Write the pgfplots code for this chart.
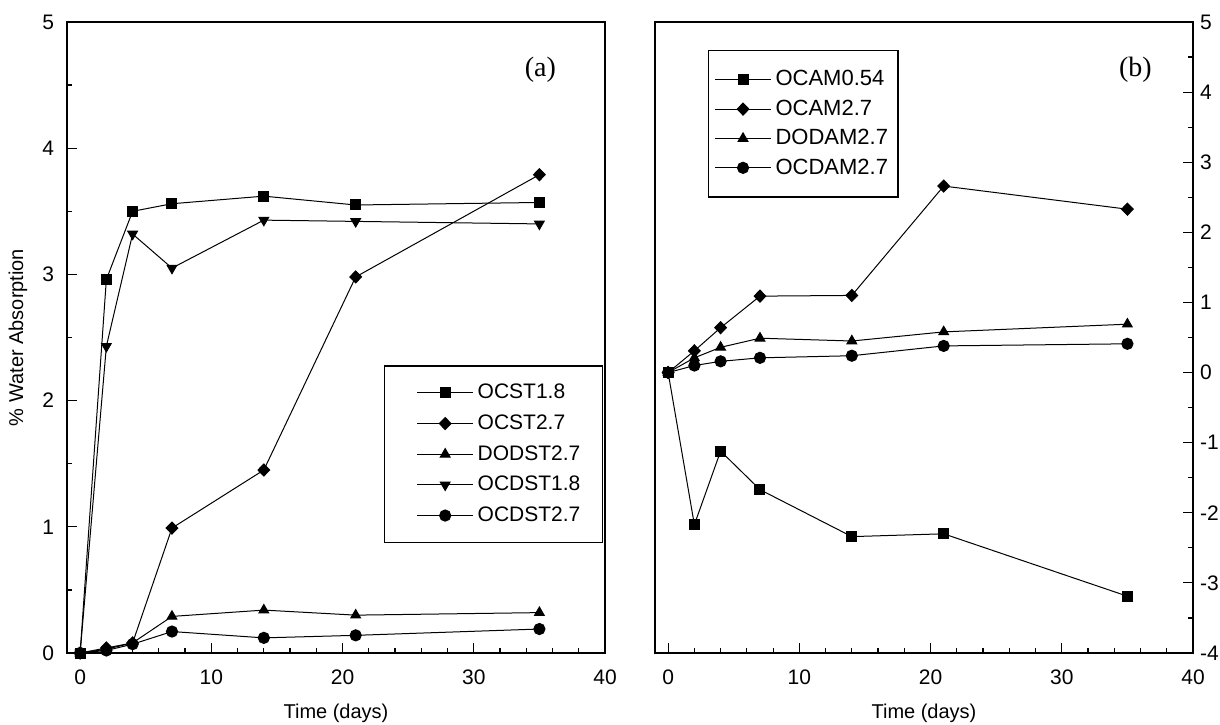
\documentclass[border=0pt]{standalone}
\usepackage{fontspec}
\setmainfont{Liberation Sans}
\newfontfamily\serifa{Liberation Serif}
\usepackage{pgfplots}
\pgfplotsset{compat=1.18}
\begin{document}
\begin{tikzpicture}
\useasboundingbox (0pt,0pt) rectangle (610pt,362pt);
\pgfplotsset{
  panel/.style={
    scale only axis, width=269pt, height=315.5pt,
    xmin=-1, xmax=40, xtick={0,10,...,40}, minor x tick num=4,
    tick align=inside, xtick pos=left,
    major tick length=5pt, minor tick length=2.5pt,
    every tick/.style={black, line width=0.6pt},
    axis line style={line width=0.9pt},
    tick label style={font=\fontsize{10.5}{12}\selectfont},
    label style={font=\fontsize{10.5}{12}\selectfont},
    /pgf/number format/assume math mode=true,
    xticklabel style={yshift=-5pt},
    xlabel={Time (days)},
    every axis x label/.style={at={(axis description cs:0.5,-0.095)}, anchor=center},
    legend cell align=left,
    legend style={draw=black, line width=0.8pt, font=\fontsize{10.5}{12}\selectfont,
      inner xsep=8pt},
    legend image code/.code={\draw[mark repeat=2,mark phase=2,##1] plot coordinates {(0pt,0pt) (14pt,0pt) (28pt,0pt)};},
    every axis plot/.append style={black, line width=0.5pt, mark size=2.8pt},
    dia/.style={mark=diamond*, mark size=3pt, mark options={xscale=1.3}},
  }
}
\begin{axis}[panel, at={(33.5pt,35.5pt)}, anchor=south west,
  ymin=0, ymax=5, ytick={0,1,...,5}, minor y tick num=1, ytick pos=left,
  yticklabel style={xshift=-3pt},
  ylabel={\% Water Absorption},
  every axis y label/.style={at={(axis description cs:-0.091,0.5)}, rotate=90, anchor=center},
  legend style={at={(0.589,0.456)}, anchor=north west, inner ysep=7pt, row sep=2.5pt, inner xsep=9pt},
  legend image code/.code={\path (-7pt,0pt); \draw[mark repeat=2,mark phase=2,#1] plot coordinates {(0pt,0pt) (14pt,0pt) (28pt,0pt)};},
]
\addplot[mark=square*, mark size=2.5pt] coordinates {(0,0) (2,2.96) (4,3.50) (7,3.56) (14,3.62) (21,3.55) (35,3.57)};
\addlegendentry{OCST1.8}
\addplot[dia] coordinates {(0,0) (2,0.04) (4,0.08) (7,0.99) (14,1.45) (21,2.98) (35,3.79)};
\addlegendentry{OCST2.7}
\addplot[mark=triangle*] coordinates {(0,0) (2,0.03) (4,0.08) (7,0.29) (14,0.34) (21,0.30) (35,0.32)};
\addlegendentry{DODST2.7\hspace{-3pt}}
\addplot[mark=triangle*, mark options={rotate=180}] coordinates {(0,0) (2,2.43) (4,3.32) (7,3.05) (14,3.43) (21,3.42) (35,3.40)};
\addlegendentry{OCDST1.8}
\addplot[mark=*] coordinates {(0,0) (2,0.02) (4,0.07) (7,0.17) (14,0.12) (21,0.14) (35,0.19)};
\addlegendentry{OCDST2.7}
\node[font=\serifa\fontsize{14}{16}\selectfont] at (axis description cs:0.88,0.924) {(a)};
\end{axis}
\begin{axis}[panel, at={(327.5pt,35.5pt)}, anchor=south west,
  ymin=-4, ymax=5, ytick={-4,-3,...,5}, minor y tick num=1,
  ytick pos=right, yticklabel pos=right,
  legend style={at={(0.098,0.956)}, anchor=north west, inner ysep=8pt, row sep=1.5pt, inner xsep=3pt,
    font=\fontsize{11}{12}\selectfont},
]
\addplot[mark=square*, mark size=2.5pt] coordinates {(0,0) (2,-2.17) (4,-1.12) (7,-1.67) (14,-2.34) (21,-2.30) (35,-3.19)};
\addlegendentry{OCAM0.54\hspace{13pt}}
\addplot[dia] coordinates {(0,0) (2,0.31) (4,0.64) (7,1.09) (14,1.10) (21,2.66) (35,2.33)};
\addlegendentry{OCAM2.7}
\addplot[mark=triangle*] coordinates {(0,0) (2,0.21) (4,0.36) (7,0.49) (14,0.45) (21,0.58) (35,0.69)};
\addlegendentry{DODAM2.7}
\addplot[mark=*] coordinates {(0,0) (2,0.10) (4,0.16) (7,0.21) (14,0.24) (21,0.38) (35,0.41)};
\addlegendentry{OCDAM2.7}
\node[font=\serifa\fontsize{14}{16}\selectfont] at (axis description cs:0.893,0.924) {(b)};
\end{axis}
\end{tikzpicture}
\end{document}
